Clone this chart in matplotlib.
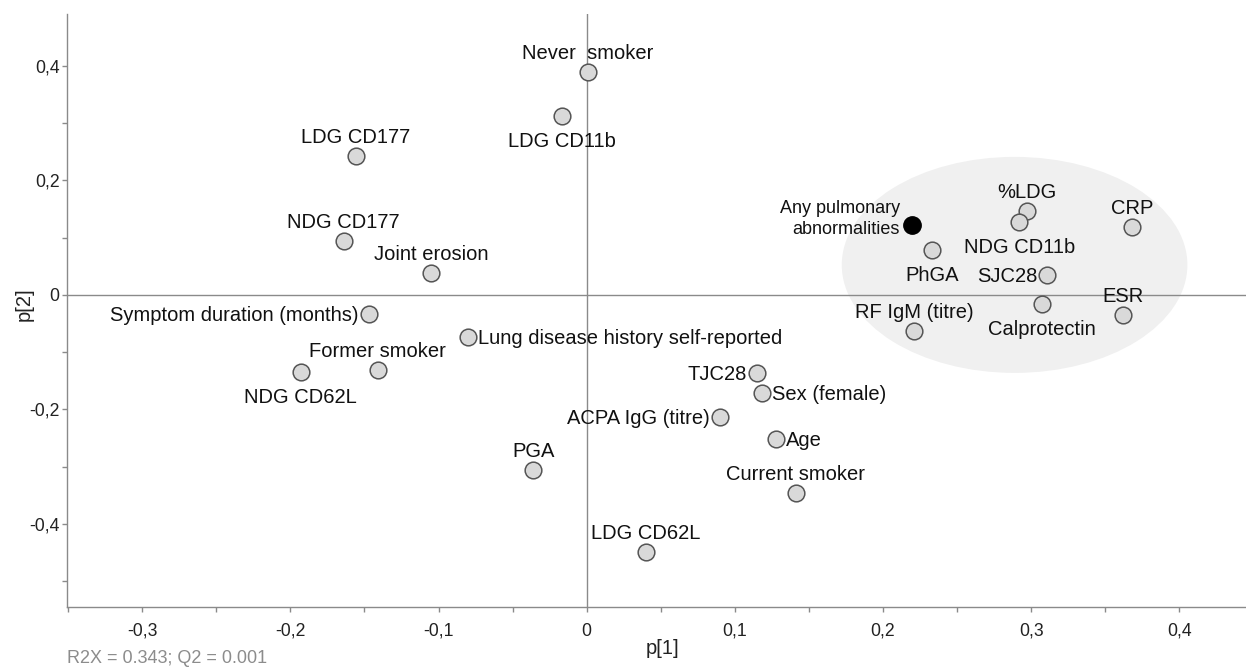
import matplotlib
matplotlib.use('Agg')
import matplotlib.pyplot as plt
from matplotlib.patches import Ellipse
from matplotlib.ticker import MultipleLocator, FuncFormatter

plt.rcParams['font.family'] = ['Liberation Sans', 'DejaVu Sans']

# loadings
names = ['Never  smoker', 'LDG CD11b', 'LDG CD177', 'NDG CD177', 'Joint erosion',
         'Symptom duration (months)', 'Lung disease history self-reported',
         'Former smoker', 'NDG CD62L', 'PGA', 'TJC28', 'Sex (female)',
         'ACPA IgG (titre)', 'Age', 'Current smoker', 'LDG CD62L', '%LDG',
         'NDG CD11b', 'CRP', 'PhGA', 'SJC28', 'Calprotectin', 'ESR', 'RF IgM (titre)']
p1 = [0.001, -0.017, -0.156, -0.164, -0.105, -0.147, -0.080, -0.141, -0.193, -0.036,
      0.115, 0.118, 0.090, 0.128, 0.141, 0.040, 0.297, 0.292, 0.368, 0.233,
      0.311, 0.307, 0.362, 0.221]
p2 = [0.389, 0.312, 0.242, 0.095, 0.039, -0.033, -0.074, -0.131, -0.134, -0.306,
      -0.137, -0.172, -0.213, -0.252, -0.347, -0.449, 0.146, 0.128, 0.119, 0.079,
      0.035, -0.016, -0.035, -0.063]

target_name = 'Any pulmonary\nabnormalities'
target_p1 = 0.2196
target_p2 = 0.122

# where each label sits relative to its point
side = ['above', 'below', 'above', 'above', 'above', 'left', 'right', 'above', 'below',
        'above', 'left', 'right', 'left', 'right', 'above', 'above', 'above', 'below',
        'above', 'below', 'left', 'below', 'above', 'above']
offsets = {'above': ((0, 13), 'center'), 'below': ((0, -31), 'center'),
           'left': ((-10, -7), 'right'), 'right': ((10, -7), 'left')}

fig = plt.figure(figsize=(12.46, 6.68), dpi=100)
ax = fig.add_axes([0.0535, 0.0918, 0.9465, 0.8873])

ax.set_xlim(-0.351, 0.445)
ax.set_ylim(-0.545, 0.491)

ax.add_patch(Ellipse((0.2888, 0.0524), 0.2333, 0.3776, facecolor='#f0f0f0',
                     edgecolor='none', zorder=0))

ax.axhline(0, color='#8a8a8a', lw=1, zorder=1)
ax.axvline(0, color='#8a8a8a', lw=1, zorder=1)

ax.plot(p1, p2, 'o', ms=12, mfc='#d9d9d9', mec='#555555', mew=1.1, ls='none', zorder=3)
ax.plot([target_p1], [target_p2], 'o', ms=12.5, mfc='black', mec='black', zorder=3)

for n, x, y, s in zip(names, p1, p2, side):
    off, ha = offsets[s]
    ax.annotate(n, (x, y), xytext=off, textcoords='offset pixels', ha=ha,
                va='baseline', fontsize=14.5, color='#111111', zorder=4)

ax.annotate(target_name, (target_p1, target_p2), xytext=(-12, 6),
            textcoords='offset pixels', ha='right', va='center', fontsize=13,
            linespacing=1.3, color='#111111', multialignment='right')

for s in ['top', 'right']:
    ax.spines[s].set_visible(False)
for s in ['left', 'bottom']:
    ax.spines[s].set_color('#8a8a8a')
    ax.spines[s].set_linewidth(1)

ax.xaxis.set_major_locator(MultipleLocator(0.1))
ax.xaxis.set_minor_locator(MultipleLocator(0.05))
ax.yaxis.set_major_locator(MultipleLocator(0.2))
ax.yaxis.set_minor_locator(MultipleLocator(0.1))


def comma(v, pos):
    if abs(v) < 1e-9:
        return '0'
    return ('%.1f' % v).replace('.', ',')


ax.xaxis.set_major_formatter(FuncFormatter(comma))
ax.yaxis.set_major_formatter(FuncFormatter(comma))
ax.tick_params(which='both', direction='out', color='#8a8a8a', labelsize=12.7,
               labelcolor='#222222')
ax.tick_params(which='both', length=3.5, width=1)
ax.tick_params(axis='x', which='major', pad=8)
ax.tick_params(axis='y', which='major', pad=1.5)

ax.set_xlabel('p[1]', fontsize=14.5, color='#222222')
ax.set_ylabel('p[2]', fontsize=14.5, color='#222222')
ax.xaxis.set_label_coords(0.505, -0.07)
ax.xaxis.label.set_va('center')
ax.yaxis.set_label_coords(-0.036, 0.511)
ax.yaxis.label.set_va('center')

fig.text(0.0535, 0.008, 'R2X = 0.343; Q2 = 0.001', fontsize=13, color='#8c8c8c',
         ha='left', va='baseline')

fig.savefig('out.png', dpi=100)
